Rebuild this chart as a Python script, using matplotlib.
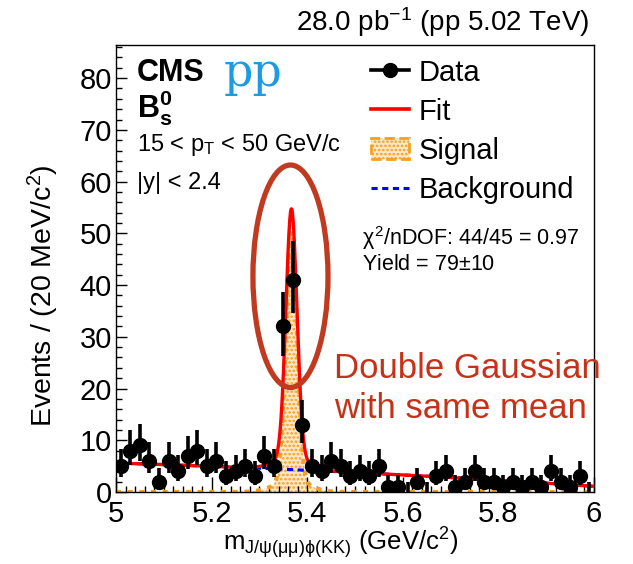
import math
import numpy as np
import matplotlib
matplotlib.use('Agg')
import matplotlib.pyplot as plt
from matplotlib.patches import Ellipse, Patch
from matplotlib.lines import Line2D
from matplotlib.ticker import MultipleLocator

plt.rcParams['font.family'] = ['Liberation Sans', 'DejaVu Sans']
plt.rcParams['mathtext.fontset'] = 'custom'
plt.rcParams['mathtext.rm'] = 'Liberation Sans'
plt.rcParams['mathtext.it'] = 'Liberation Sans'
plt.rcParams['mathtext.bf'] = 'Liberation Sans:bold'
plt.rcParams['hatch.color'] = '#f7a12a'
plt.rcParams['hatch.linewidth'] = 1.2

# Bs -> J/psi phi candidates, 20 MeV bins between 5.0 and 6.0 GeV
m_lo, m_hi, n_bins = 5.0, 6.0, 50
counts = [5, 8, 9, 6, 2, 6, 4, 7, 8, 5,
          6, 3, 4, 5, 3, 7, 5, 32, 41, 13,
          5, 4, 6, 5, 3, 4, 3, 5, 1, 1,
          0, 2, 0, 3, 4, 1, 2, 4, 2, 2,
          1, 2, 1, 2, 1, 4, 2, 1, 3, 0]

# fit result: double gaussian (common mean) + 2nd order polynomial background
fit_mean = 5.367
fit_sigma1, fit_sigma2 = 0.0115, 0.035
fit_frac1 = 0.88
fit_yield = 79
bkg_coef = [5.6, -2.83, -1.67]   # events/bin in powers of (m - 5)


def poisson_cdf(k, mu):
    if k < 0:
        return 0.0
    term, tot = math.exp(-mu), math.exp(-mu)
    for j in range(1, k + 1):
        term *= mu / j
        tot += term
    return tot


def solve(f, target, lo, hi):
    # f decreasing in mu
    for _ in range(60):
        mid = 0.5 * (lo + hi)
        if f(mid) > target:
            lo = mid
        else:
            hi = mid
    return 0.5 * (lo + hi)


def garwood(n, alpha=0.3173):
    up = solve(lambda mu: poisson_cdf(n, mu), alpha / 2, n, n + 30)
    low = 0.0 if n == 0 else solve(lambda mu: poisson_cdf(n - 1, mu), 1 - alpha / 2, 0, n)
    return low, up


bw = (m_hi - m_lo) / n_bins
centers = m_lo + bw * (np.arange(n_bins) + 0.5)
y = np.array(counts, dtype=float)
errs = np.array([garwood(n) for n in counts])
err_lo = y - errs[:, 0]
err_hi = errs[:, 1] - y

mm = np.linspace(m_lo, m_hi, 1500)
def gaus(x, s):
    return np.exp(-0.5 * ((x - fit_mean) / s) ** 2) / (np.sqrt(2 * np.pi) * s)
sig = fit_yield * bw * (fit_frac1 * gaus(mm, fit_sigma1) + (1 - fit_frac1) * gaus(mm, fit_sigma2))
dm = mm - m_lo
bkg = bkg_coef[0] + bkg_coef[1] * dm + bkg_coef[2] * dm ** 2
tot = sig + bkg

W, H = 633, 564
fig = plt.figure(figsize=(W / 100, H / 100), dpi=100)
ax = fig.add_axes([116 / W, 1 - 492 / H, (594 - 116) / W, (492 - 45) / H])

orange = '#f5a020'
ax.fill_between(mm, 0, sig, facecolor='#fde6c4', edgecolor=orange, hatch='....', linewidth=0, zorder=1)
ax.plot(mm, sig, color=orange, ls=(0, (1.2, 1.6)), lw=3, zorder=2)
ax.plot(mm, bkg, color='#0000ff', ls=(0, (2, 1.5)), lw=2.2, zorder=3)
ax.plot(mm, tot, color='#ff0000', lw=2.4, zorder=4)

nz = y > 0
ax.errorbar(centers[nz], y[nz], yerr=[err_lo[nz], err_hi[nz]], fmt='o', color='k',
            ms=10, elinewidth=2.6, capsize=0, zorder=5)
ax.errorbar(centers[~nz], y[~nz], yerr=[err_lo[~nz], err_hi[~nz]], fmt='none', ecolor='k',
            elinewidth=2.6, capsize=0, zorder=5)

ax.set_xlim(m_lo, m_hi)
ax.set_ylim(0, 86.4)
ax.xaxis.set_major_locator(MultipleLocator(0.2))
ax.xaxis.set_minor_locator(MultipleLocator(0.02))
ax.yaxis.set_major_locator(MultipleLocator(10))
ax.yaxis.set_minor_locator(MultipleLocator(2))
ax.xaxis.set_major_formatter(matplotlib.ticker.FuncFormatter(lambda v, p: f'{v:g}'))
ax.tick_params(which='both', direction='in', top=False, right=False, labelsize=21, width=1)
ax.tick_params(axis='x', which='major', length=11, pad=6)
ax.tick_params(axis='x', which='minor', length=4)
ax.tick_params(axis='y', which='major', length=8, pad=3)
ax.tick_params(axis='y', which='minor', length=4)
for sp in ax.spines.values():
    sp.set_linewidth(1)

ax.set_xlabel(r'm$_{\mathrm{J/\psi(\mu\mu)\phi(KK)}}$ (GeV/c$^{2}$)', fontsize=18.5, va='top')
ax.xaxis.set_label_coords(0.47, -0.075)
ax.set_ylabel(r'Events / (20 MeV/c$^{2}$)', fontsize=20.5)
ax.yaxis.set_label_coords(-0.115, 0.44)

# header and labels
fig.text(590 / W, 1 - 31 / H, r'28.0 pb$^{-1}$ (pp 5.02 TeV)', ha='right', va='baseline', fontsize=20)
fig.text(137 / W, 1 - 81 / H, 'CMS', fontsize=22, fontweight='bold', va='baseline')
fig.text(224 / W, 1 - 86 / H, 'pp', fontsize=33, color='#1c9be4', family='DejaVu Serif', va='baseline')
fig.text(137 / W, 1 - 118 / H, r'$\mathbf{B_{s}^{0}}$', fontsize=22, va='baseline')
fig.text(137 / W, 1 - 151 / H, r'15 < p$_{\mathrm{T}}$ < 50 GeV/c', fontsize=17, va='baseline')
fig.text(137 / W, 1 - 189 / H, '|y| < 2.4', fontsize=17, va='baseline')
fig.text(362 / W, 1 - 245 / H, r'$\chi^{2}$/nDOF: 44/45 = 0.97', fontsize=15.5, va='baseline')
fig.text(362 / W, 1 - 270 / H, r'Yield = 79$\pm$10', fontsize=15.5, va='baseline')

handles = [
    Line2D([], [], color='k', marker='o', ms=10, lw=2.6),
    Line2D([], [], color='#ff0000', lw=2.6),
    Patch(facecolor='#fde6c4', edgecolor=orange, hatch='....', ls='--', lw=2),
    Line2D([], [], color='#0000ff', ls=(0, (2, 1.5)), lw=2.2),
]
fig.legend(handles, ['Data', 'Fit', 'Signal', 'Background'], loc='upper left',
           bbox_to_anchor=(356 / W, 1 - 44 / H), frameon=False, fontsize=21,
           handlelength=1.3, handletextpad=0.35, labelspacing=0.38, borderpad=0)

# annotation of the peak shape
red_note = '#c63218'
ax.add_patch(Ellipse((5.365, 41.7), 0.157, 43, fill=False, edgecolor='#c03a20',
                     lw=3.8, clip_on=False, zorder=6))
fig.text(334 / W, 1 - 378 / H, 'Double Gaussian', fontsize=25, color=red_note, va='baseline')
fig.text(334 / W, 1 - 418 / H, 'with same mean', fontsize=25, color=red_note, va='baseline')

fig.savefig('out.png', dpi=100, facecolor='white')
